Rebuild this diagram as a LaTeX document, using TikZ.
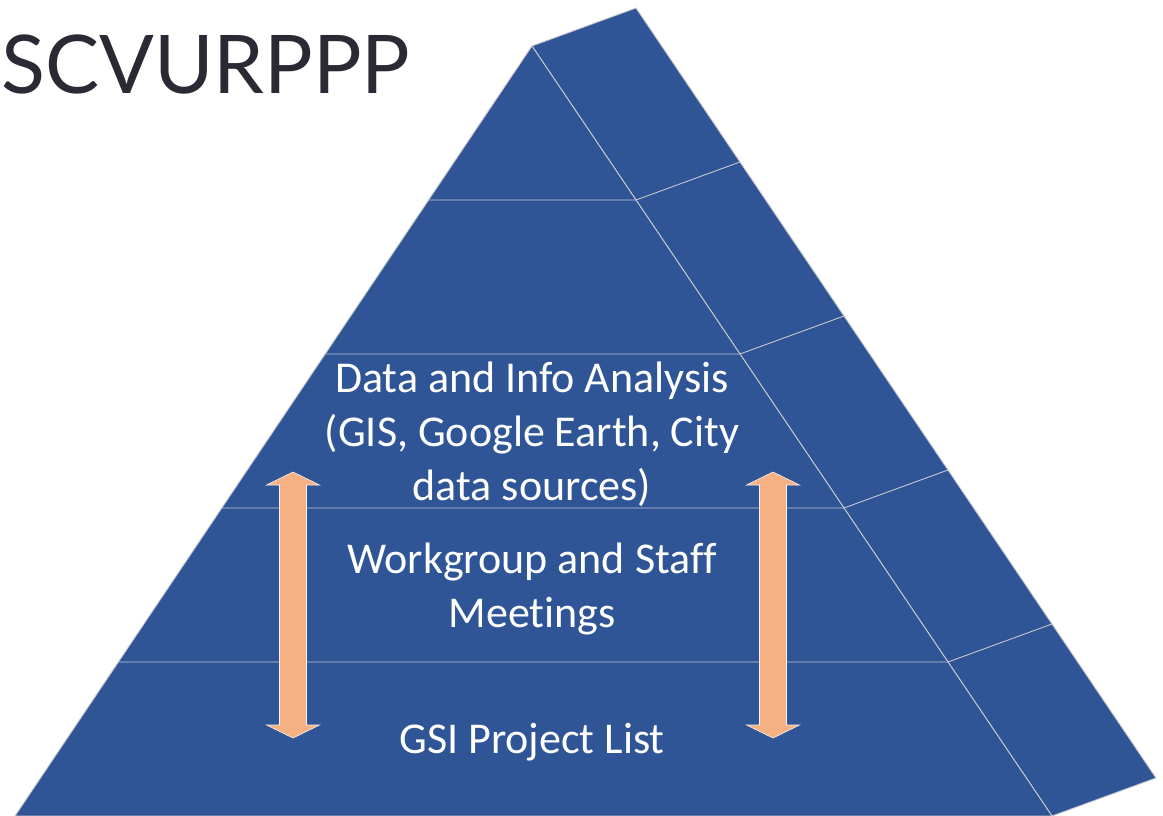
\documentclass[tikz,border=0pt]{standalone}
\usepackage{fontspec}
\setmainfont[Ligatures=NoCommon]{Carlito}
\newfontfamily\titlefont{Lato}
\usetikzlibrary{calc}
\definecolor{pyrblue}{RGB}{47,85,151}
\definecolor{edgegray}{RGB}{200,200,205}
\definecolor{peach}{RGB}{244,177,131}
\definecolor{titlegray}{RGB}{42,42,53}
\tikzset{
  face/.style={fill=pyrblue, draw=edgegray, line width=0.9pt, line join=round},
  divider/.style={draw=edgegray, line width=0.9pt},
  arrowbody/.style={fill=peach, draw=white!85!peach, line width=0.6pt, line join=miter},
  label/.style={text=white, align=center, font=\fontsize{44}{54}\selectfont, anchor=base, inner sep=0pt},
}
\begin{document}
\begin{tikzpicture}[x=1pt,y=-1pt]
\useasboundingbox (0,0) rectangle (1163,816);
% main points
\coordinate (A) at (532,46);
\coordinate (L) at (15,816);
\coordinate (R) at (1052,816);
\coordinate (o) at (104,-38);
\coordinate (A2) at ($(A)+(o)$);
\coordinate (R2) at ($(R)+(o)$);
% side face
\path[face] (A) -- (A2) -- (R2) -- (R) -- cycle;
% front face
\path[face] (A) -- (L) -- (R) -- cycle;
% level dividers
\foreach \k in {1,2,3,4}{
  \coordinate (l\k) at ($(A)!\k/5!(L)$);
  \coordinate (r\k) at ($(A)!\k/5!(R)$);
  \coordinate (b\k) at ($(r\k)+(o)$);
  \draw[divider] (l\k) -- (r\k) -- (b\k);
}
% arrows
\foreach \cx/\nm in {293/la,773/ra}{
  \path[arrowbody] (\cx,472) -- (\cx+26.5,485) -- (\cx+13.5,485) -- (\cx+13.5,725)
    -- (\cx+26.5,725) -- (\cx,738) -- (\cx-26.5,725) -- (\cx-13.5,725)
    -- (\cx-13.5,485) -- (\cx-26.5,485) -- cycle;
}
% title
\node[anchor=base west, inner sep=0pt, text=titlegray, font=\titlefont\fontsize{81}{90}\selectfont] (title) at (1,94) {SCVURPPP};
% labels
\node[label] (data) at (532,500) {Data and Info Analysis\\(GIS, Google Earth, City\\data sources)};
\node[label] (work) at (532,627) {Workgroup and Staff\\Meetings};
\node[label] (gsi) at (532,753) {GSI Project List};
\end{tikzpicture}
\end{document}
